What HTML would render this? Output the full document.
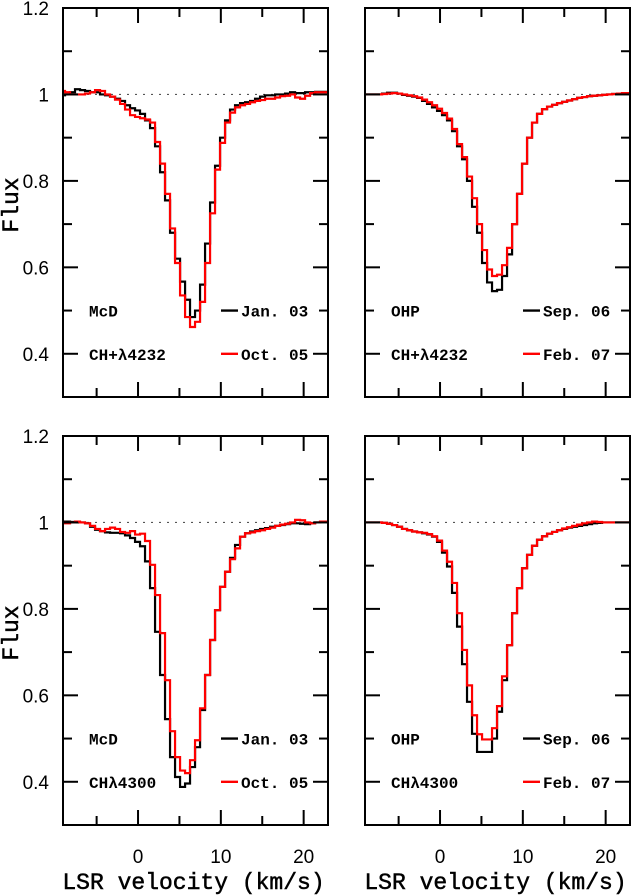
<!DOCTYPE html>
<html><head><meta charset="utf-8"><title>CH+ and CH line profiles</title>
<style>
html,body{margin:0;padding:0;background:#fff;}
svg{display:block;}
text{font-family:"Liberation Sans",sans-serif;fill:#000;}
.tick{font-size:19px;}
.lab{font-family:"Liberation Mono",monospace;font-weight:bold;font-size:16px;}
.axl{font-family:"Liberation Mono",monospace;font-size:23px;stroke:#000;stroke-width:0.5;}
</style></head>
<body>
<svg id="chart" width="631" height="895" viewBox="0 0 631 895" xmlns="http://www.w3.org/2000/svg"></svg>
<script>
// shared velocity bin centres (km/s)
const velocity = [-9.12,-8.51,-7.91,-7.31,-6.70,-6.10,-5.49,-4.89,-4.29,-3.68,-3.08,-2.47,-1.87,-1.27,-0.66,-0.06,0.54,1.15,1.75,2.36,2.96,3.56,4.17,4.77,5.38,5.98,6.58,7.19,7.79,8.40,9.00,9.60,10.21,10.81,11.41,12.02,12.62,13.23,13.83,14.43,15.04,15.64,16.25,16.85,17.45,18.06,18.66,19.27,19.87,20.47,21.08,21.68,22.28,22.89];

// McD CH+ 4232
const mcdChpJan03 = [0.998,1.0,1.005,1.012,1.01,1.008,1.005,1.005,1.0,0.998,0.995,0.99,0.985,0.975,0.968,0.963,0.955,0.94,0.922,0.88,0.82,0.755,0.68,0.62,0.567,0.525,0.485,0.5,0.56,0.655,0.75,0.835,0.9,0.94,0.965,0.975,0.98,0.982,0.985,0.99,0.995,0.998,0.998,1.0,1.0,1.002,1.005,1.003,1.003,1.005,1.005,1.006,1.006,1.006];
const mcdChpOct05 = [1.008,1.005,1.0,1.0,1.0,1.002,1.005,1.01,1.008,1.0,0.995,0.988,0.978,0.965,0.952,0.948,0.945,0.942,0.935,0.89,0.84,0.77,0.69,0.61,0.535,0.485,0.462,0.474,0.52,0.61,0.725,0.826,0.888,0.935,0.958,0.97,0.975,0.978,0.982,0.985,0.987,0.99,0.99,0.993,0.996,0.997,1.0,0.993,0.99,0.997,1.003,1.005,1.005,1.005];
// OHP CH+ 4232
const ohpChpSep06 = [1.0,1.0,1.0,1.0,1.002,1.004,1.004,1.002,0.999,0.997,0.995,0.992,0.985,0.978,0.97,0.962,0.952,0.94,0.915,0.88,0.85,0.80,0.74,0.68,0.61,0.565,0.545,0.548,0.58,0.63,0.7,0.77,0.84,0.9,0.935,0.955,0.966,0.972,0.976,0.98,0.983,0.986,0.989,0.992,0.994,0.996,0.997,0.998,0.999,1.0,1.001,1.002,1.003,1.003];
const ohpChpFeb07 = [1.0,1.0,1.0,1.0,1.001,1.002,1.003,1.002,1.0,0.998,0.996,0.993,0.988,0.982,0.975,0.967,0.957,0.944,0.92,0.885,0.855,0.81,0.76,0.70,0.64,0.595,0.58,0.583,0.605,0.645,0.7,0.77,0.84,0.9,0.935,0.955,0.966,0.972,0.976,0.98,0.983,0.986,0.989,0.992,0.994,0.996,0.997,0.998,0.999,1.0,1.001,1.002,1.003,1.003];
// McD CH 4300
const mcdChJan03 = [1.002,1.002,1.001,1.0,1.0,0.998,0.99,0.983,0.98,0.977,0.976,0.976,0.975,0.97,0.964,0.955,0.945,0.91,0.848,0.747,0.647,0.545,0.457,0.411,0.388,0.396,0.434,0.48,0.566,0.647,0.728,0.797,0.851,0.886,0.918,0.948,0.967,0.975,0.979,0.982,0.985,0.987,0.99,0.992,0.994,0.996,0.998,0.998,0.997,0.996,0.998,1.0,1.002,1.002];
const mcdChOct05 = [1.0,0.998,1.0,1.002,1.0,0.998,0.992,0.985,0.98,0.985,0.988,0.985,0.978,0.976,0.98,0.972,0.974,0.957,0.902,0.832,0.744,0.635,0.517,0.457,0.426,0.42,0.45,0.496,0.57,0.647,0.728,0.797,0.851,0.886,0.915,0.94,0.967,0.975,0.977,0.98,0.982,0.985,0.988,0.992,0.995,0.997,1.0,1.006,1.005,1.0,0.998,1.0,1.002,1.002];
// OHP CH 4300
const ohpChSep06 = [1.0,1.0,1.0,1.0,0.999,0.997,0.994,0.99,0.985,0.982,0.979,0.977,0.975,0.972,0.967,0.955,0.93,0.898,0.837,0.759,0.672,0.585,0.511,0.469,0.469,0.469,0.5,0.562,0.635,0.716,0.79,0.848,0.894,0.925,0.946,0.96,0.968,0.974,0.978,0.982,0.985,0.988,0.99,0.992,0.994,0.996,0.998,0.999,1.0,1.0,1.0,1.0,1.0,1.0];
const ohpChFeb07 = [1.0,1.0,1.0,1.0,0.999,0.997,0.994,0.99,0.985,0.982,0.979,0.977,0.976,0.973,0.968,0.958,0.935,0.909,0.86,0.79,0.705,0.623,0.554,0.51,0.498,0.498,0.524,0.575,0.644,0.716,0.79,0.848,0.894,0.925,0.946,0.96,0.968,0.974,0.978,0.982,0.986,0.989,0.992,0.995,0.998,1.0,1.002,1.001,1.0,1.0,1.0,1.0,1.0,1.0];

const yTicks = [0.4,0.6,0.8,1.0,1.2];
const yTickLabels = ["0.4","0.6","0.8","1","1.2"];
const xTicks = [0,10,20];
const xTickLabels = ["0","10","20"];

const NS = "http://www.w3.org/2000/svg";
const svg = document.getElementById("chart");
const V0 = -9.06, V1 = 22.94, F0 = 0.3, F1 = 1.2;

function mk(tag, attrs, parent){
  const e = document.createElementNS(NS, tag);
  for (const k in attrs) e.setAttribute(k, attrs[k]);
  (parent||svg).appendChild(e);
  return e;
}

function panel(cfg){
  const L = cfg.x, T = cfg.y, W = 265, H = 389;
  const xs = v => L + (v - V0) / (V1 - V0) * W;
  const ys = f => T + (F1 - f) / (F1 - F0) * H;
  const g = mk("g", {});
  
  
  const cid = "clip-" + cfg.name;
  const cp = mk("clipPath", {id: cid}, g);
  mk("rect", {x: L, y: T, width: W, height: H}, cp);

  const dl = mk("line", {x1: L, x2: L + W, y1: ys(1), y2: ys(1), stroke: "#555", "stroke-width": 1.2, "stroke-dasharray": "2 6"}, g);
  
  

  cfg.series.forEach(s => {
    let d = "";
    for (let i = 0; i < velocity.length; i++) {
      const lo = i === 0 ? velocity[0] - (velocity[1] - velocity[0]) / 2 : (velocity[i - 1] + velocity[i]) / 2;
      const hi = i === velocity.length - 1 ? velocity[i] + (velocity[i] - velocity[i - 1]) / 2 : (velocity[i] + velocity[i + 1]) / 2;
      const y = ys(s.data[i]).toFixed(2);
      d += (i === 0 ? "M" : "L") + xs(lo).toFixed(2) + " " + y + " L" + xs(hi).toFixed(2) + " " + y + " ";
    }
    const p = mk("path", {d: d, fill: "none", stroke: s.color, "stroke-width": 2.2, "stroke-linejoin": "miter", "clip-path": "url(#" + cid + ")"}, g);
    
    
  });

  const fr = mk("rect", {x: L, y: T, width: W, height: H, fill: "none", stroke: "#000", "stroke-width": 2}, g);
  
  

  for (let k = 0; k < 9; k++) {
    const f = 0.4 + k * 0.1;
    const major = k % 2 === 0;
    const len = major ? 15 : 9;
    const y = ys(f);
    mk("line", {x1: L, x2: L + len, y1: y, y2: y, stroke: "#000", "stroke-width": 2}, g);
    mk("line", {x1: L + W - len, x2: L + W, y1: y, y2: y, stroke: "#000", "stroke-width": 2}, g);
  }
  for (let v = -5; v <= 20; v += 5) {
    const major = v % 10 === 0;
    const len = major ? 15 : 9;
    const x = xs(v);
    mk("line", {x1: x, x2: x, y1: T, y2: T + len, stroke: "#000", "stroke-width": 2}, g);
    mk("line", {x1: x, x2: x, y1: T + H - len, y2: T + H, stroke: "#000", "stroke-width": 2}, g);
  }
  if (cfg.yLabels) {
    yTicks.forEach((f, i) => {
      const t = mk("text", {x: 49, y: ys(f) + 7, "text-anchor": "end", class: "tick"}, g);
      t.textContent = yTickLabels[i];
      
      
    });
    const yl = mk("text", {x: 0, y: 0, class: "axl", "text-anchor": "middle", transform: "translate(18," + (T + 197) + ") rotate(-90)"}, g);
    yl.textContent = "Flux";
    
    
  }
  if (cfg.xLabels) {
    xTicks.forEach((v, i) => {
      const t = mk("text", {x: xs(v), y: T + H + 38, "text-anchor": "middle", class: "tick"}, g);
      t.textContent = xTickLabels[i];
      
      
    });
    const xl = mk("text", {x: L + W / 2 - 2, y: T + H + 64, "text-anchor": "middle", class: "axl"}, g);
    xl.textContent = "LSR velocity (km/s)";
    
    
  }
  const o = mk("text", {x: L + 26, y: ys(0.5) + 6, class: "lab"}, g);
  o.textContent = cfg.obs;
  
  
  const ln = mk("text", {x: L + 26, y: ys(0.4) + 6, class: "lab"}, g);
  ln.textContent = cfg.line;
  
  
  cfg.series.forEach((s, i) => {
    const f = i === 0 ? 0.5 : 0.4;
    const le = mk("line", {x1: L + 158, x2: L + 175, y1: ys(f), y2: ys(f), stroke: s.color, "stroke-width": 2.4}, g);
    
    
    const lt = mk("text", {x: L + 178, y: ys(f) + 6, class: "lab"}, g);
    lt.textContent = s.label;
    
    
  });
}

panel({name: "panel-mcd-chplus", x: 63, y: 8, yLabels: true, xLabels: false, obs: "McD", line: "CH+\u03bb4232",
  series: [{name: "series-jan03", color: "#000", data: mcdChpJan03, label: "Jan. 03"}, {name: "series-oct05", color: "#f00", data: mcdChpOct05, label: "Oct. 05"}]});
panel({name: "panel-ohp-chplus", x: 365, y: 8, yLabels: false, xLabels: false, obs: "OHP", line: "CH+\u03bb4232",
  series: [{name: "series-sep06", color: "#000", data: ohpChpSep06, label: "Sep. 06"}, {name: "series-feb07", color: "#f00", data: ohpChpFeb07, label: "Feb. 07"}]});
panel({name: "panel-mcd-ch", x: 63, y: 436, yLabels: true, xLabels: true, obs: "McD", line: "CH\u03bb4300",
  series: [{name: "series-jan03", color: "#000", data: mcdChJan03, label: "Jan. 03"}, {name: "series-oct05", color: "#f00", data: mcdChOct05, label: "Oct. 05"}]});
panel({name: "panel-ohp-ch", x: 365, y: 436, yLabels: false, xLabels: true, obs: "OHP", line: "CH\u03bb4300",
  series: [{name: "series-sep06", color: "#000", data: ohpChSep06, label: "Sep. 06"}, {name: "series-feb07", color: "#f00", data: ohpChFeb07, label: "Feb. 07"}]});
</script>
</body></html>
